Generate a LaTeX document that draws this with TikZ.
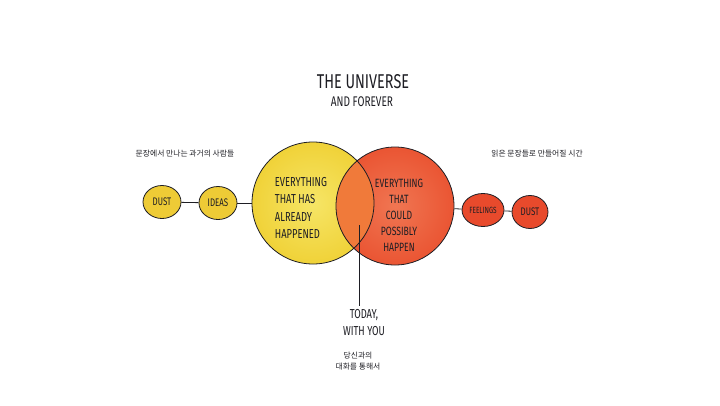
\documentclass[tikz,border=0pt]{standalone}
\usepackage{fontspec}
\usetikzlibrary{shapes.geometric}
\newfontfamily\hand[FakeStretch=0.72]{Fira Sans}
\newfontfamily\kor{Noto Sans CJK KR}
\definecolor{sunny}{HTML}{F0D238}
\definecolor{sunnyin}{HTML}{F6E566}
\definecolor{tomato}{HTML}{EA5533}
\definecolor{tomatoin}{HTML}{F07652}
\definecolor{blend}{HTML}{F07A3A}
\definecolor{sunnydot}{HTML}{EECB36}
\definecolor{tomatodot}{HTML}{E84A2C}
\definecolor{ink}{HTML}{1E1E24}

\begin{document}
\begin{tikzpicture}[x=1pt,y=-1pt,line width=0.8pt,
  blob/.style={ellipse,draw=ink,minimum width=38pt,minimum height=33pt,inner sep=0pt,text=ink,font=\hand\fontsize{11}{11}\selectfont},
  note/.style={text=ink,font=\kor\fontsize{7.8}{11}\selectfont}]
\useasboundingbox (0,0) rectangle (720,405);

% the two circles
\shade[inner color=sunnyin,outer color=sunny] (313,203) circle[radius=61pt];
\shade[inner color=tomatoin,outer color=tomato] (395,206) circle[radius=59pt];
\begin{scope}
\clip (313,203) circle[radius=61pt];
\fill[blend] (395,206) circle[radius=59pt];
\end{scope}
\node[circle,draw=ink,minimum size=122pt] (past) at (313,203) {};
\node[circle,draw=ink,minimum size=118pt] (future) at (395,206) {};

\node[align=left,text=ink,font=\hand\fontsize{13}{17.5}\selectfont] (pasttext) at (301,208) {EVERYTHING\\THAT HAS\\ALREADY\\HAPPENED};
\node[align=center,text=ink,font=\hand\fontsize{12}{16}\selectfont] (futuretext) at (399,215) {EVERYTHING\\THAT\\COULD\\POSSIBLY\\HAPPEN};

% small blobs
\node[blob,fill=sunnydot] (dustl) at (162,202) {DUST};
\node[blob,fill=sunnydot] (ideas) at (218,203) {IDEAS};
\node[blob,fill=tomatodot,minimum width=42pt,font=\hand\fontsize{9}{9}\selectfont] (feel) at (483,210) {FEELINGS};
\node[blob,fill=tomatodot,minimum width=36pt] (dustr) at (530,212) {DUST};

\draw[ink] (dustl) -- (ideas);
\draw[ink] (ideas) -- (past);
\draw[ink] (future) -- (feel);
\draw[ink] (feel) -- (dustr);

% today
\coordinate (now) at (359,225);
\node[align=center,text=ink,font=\hand\fontsize{13}{17}\selectfont] (today) at (364,323) {TODAY,\\WITH YOU};
\draw[ink] (now) -- (now |- today.north);

% title
\node[text=ink,font=\hand\fontsize{20}{20}\selectfont] (title) at (363,82) {THE UNIVERSE};
\node[text=ink,font=\hand\fontsize{14}{14}\selectfont] (subtitle) at (362,102) {AND FOREVER};

% notes
\node[note] (pastnote) at (185,154) {문장에서 만나는 과거의 사람들};
\node[note] (futurenote) at (537,154) {읽은 문장들로 만들어질 시간};
\node[note,align=center] (nownote) at (358,361) {당신과의\\대화를 통해서};
\end{tikzpicture}
\end{document}
